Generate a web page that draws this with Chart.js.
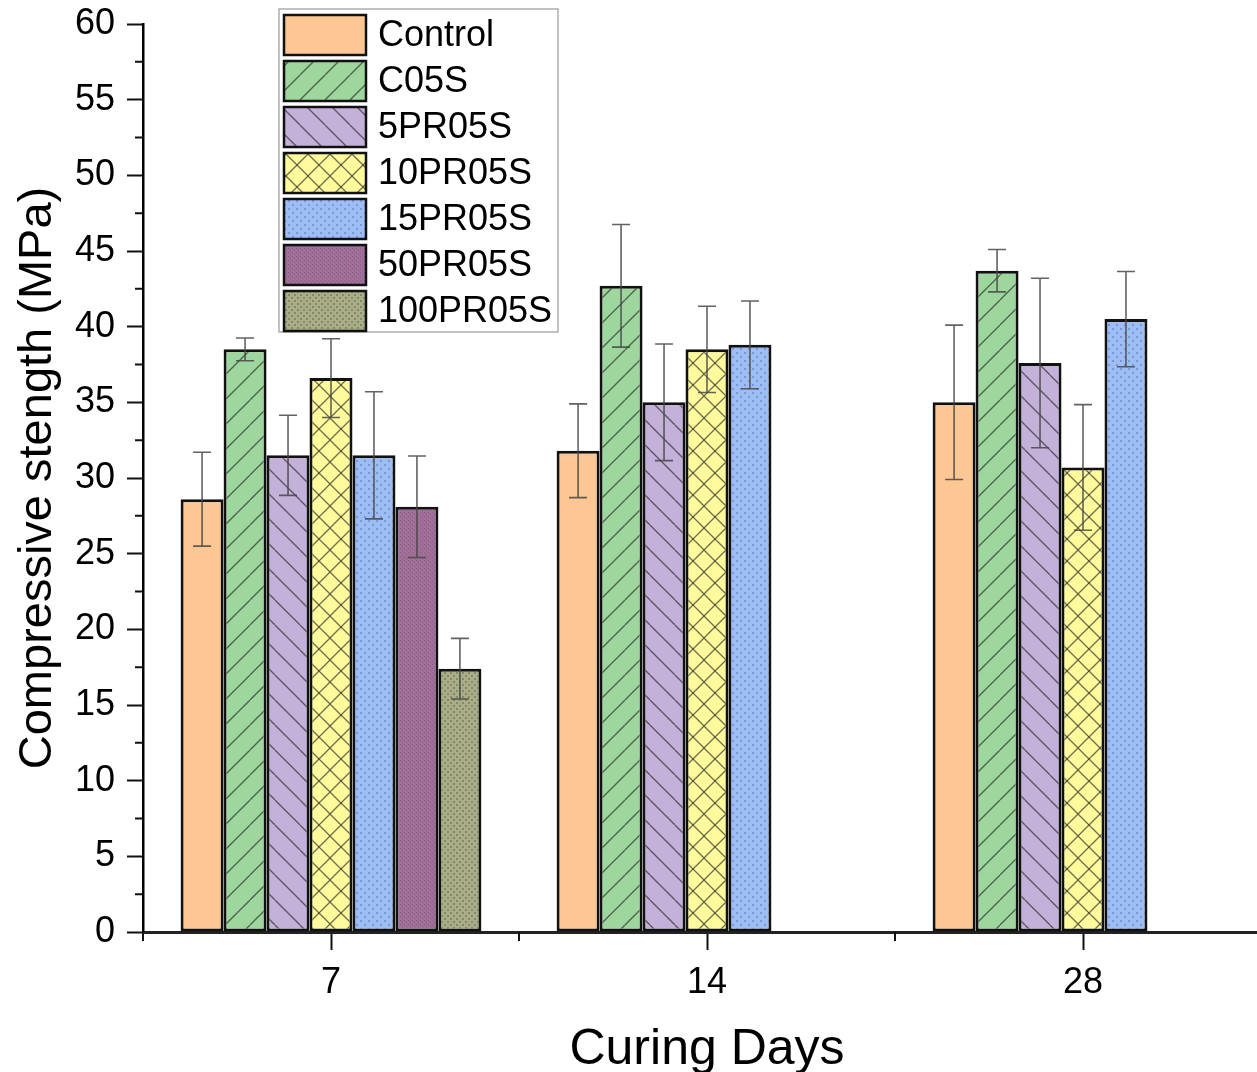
<!DOCTYPE html>
<html>
<head>
<meta charset="utf-8">
<script src="https://cdn.jsdelivr.net/npm/chart.js@4/dist/chart.umd.min.js"></script>
<style>
  html, body { margin: 0; padding: 0; background: #fff; overflow: hidden; }
  #wrap { position: relative; width: 1276px; height: 1080px; }
</style>
</head>
<body>
<div id="wrap"><canvas id="c"></canvas></div>
<script>
// categories (curing days)
const days = ['7', '14', '28'];

// mean compressive strength (MPa)
const control = [28.6, 31.8, 35.0];
const c05s    = [38.5, 42.7, 43.7];
const pr5     = [31.5, 35.0, 37.6];
const pr10    = [36.6, 38.5, 30.7];
const pr15    = [31.5, 38.8, 40.5];
const pr50    = [28.1, null, null];
const pr100   = [17.4, null, null];

// standard deviation (error bars)
const controlErr = [3.1, 3.1, 5.1];
const c05sErr    = [0.75, 4.05, 1.4];
const pr5Err     = [2.65, 3.85, 5.6];
const pr10Err    = [2.6, 2.85, 4.15];
const pr15Err    = [4.2, 2.9, 3.15];
const pr50Err    = [3.35, null, null];
const pr100Err   = [2.0, null, null];

const labels = ['Control', 'C05S', '5PR05S', '10PR05S', '15PR05S', '50PR05S', '100PR05S'];

// pattern helper
function tile(size, bg, draw) {
  const cv = document.createElement('canvas');
  cv.width = size; cv.height = size;
  const g = cv.getContext('2d');
  g.fillStyle = bg;
  g.fillRect(0, 0, size, size);
  draw(g, size);
  return g.createPattern(cv, 'repeat');
}
function slash(g, s, dir) {
  g.strokeStyle = 'rgba(20,20,20,0.6)';
  g.lineWidth = 1.3;
  for (let k = -1; k <= 1; k++) {
    g.beginPath();
    if (dir > 0) { g.moveTo(k * s, s); g.lineTo(k * s + s, 0); }
    else { g.moveTo(k * s, 0); g.lineTo(k * s + s, s); }
    g.stroke();
  }
}
function dots(g, s, col, r, stagger) {
  g.fillStyle = col;
  g.fillRect(0, 0, r, r);
  if (stagger) g.fillRect(s / 2, s / 2, r, r);
}

const fills = [
  '#FDC794',
  tile(25, '#9DD79D', (g, s) => slash(g, s, 1)),
  tile(25, '#C3B1D9', (g, s) => slash(g, s, -1)),
  tile(22, '#FFFB9C', (g, s) => { slash(g, s, 1); slash(g, s, -1); }),
  tile(8, '#9DBDF4', (g, s) => dots(g, s, 'rgba(90,120,190,0.55)', 2, true)),
  tile(4, '#A0709A', (g, s) => dots(g, s, 'rgba(120,70,110,0.5)', 1, true)),
  tile(6, '#A9AD88', (g, s) => dots(g, s, 'rgba(110,115,80,0.6)', 2, true))
];

const values = [control, c05s, pr5, pr10, pr15, pr50, pr100];
const errors = [controlErr, c05sErr, pr5Err, pr10Err, pr15Err, pr50Err, pr100Err];

const datasets = labels.map((l, i) => ({
  label: l,
  data: values[i],
  errs: errors[i],
  backgroundColor: fills[i],
  borderColor: '#111',
  borderWidth: 3,
  borderSkipped: false
}));

// error bars
const errorBars = {
  id: 'errorBars',
  afterDatasetsDraw(chart) {
    const c = chart.ctx, ys = chart.scales.y;
    c.save();
    c.strokeStyle = 'rgba(70,70,70,0.85)';
    c.lineWidth = 1.6;
    chart.data.datasets.forEach((ds, di) => {
      const meta = chart.getDatasetMeta(di);
      meta.data.forEach((el, j) => {
        const v = ds.data[j], e = ds.errs[j];
        if (v == null || e == null) return;
        const x = el.x;
        const t = ys.getPixelForValue(v + e), b = ys.getPixelForValue(v - e);
        c.beginPath();
        c.moveTo(x, t); c.lineTo(x, b);
        c.moveTo(x - 9, t); c.lineTo(x + 9, t);
        c.moveTo(x - 9, b); c.lineTo(x + 9, b);
        c.stroke();
      });
    });
    c.restore();
  }
};

// minor ticks on both axes
const minorTicks = {
  id: 'minorTicks',
  afterDraw(chart) {
    const c = chart.ctx, ys = chart.scales.y;
    const a = chart.chartArea;
    c.save();
    c.strokeStyle = '#111';
    c.lineWidth = 2;
    c.beginPath();
    for (let v = 2.5; v < 60; v += 5) {
      const y = ys.getPixelForValue(v);
      c.moveTo(a.left - 8, y); c.lineTo(a.left, y);
    }
    const w = (a.right - a.left) / days.length;
    for (let i = 0; i <= days.length; i++) {
      const x = a.left + i * w;
      c.moveTo(x, a.bottom); c.lineTo(x, a.bottom + 9);
    }
    c.stroke();
    c.restore();
  }
};

// legend box inside the plot
const boxLegend = {
  id: 'boxLegend',
  afterDraw(chart) {
    const c = chart.ctx;
    const x0 = 279, y0 = 9, w = 279, h = 323, row = 46;
    c.save();
    c.fillStyle = '#fff';
    c.fillRect(x0, y0, w, h);
    c.strokeStyle = '#999';
    c.lineWidth = 1.2;
    c.strokeRect(x0, y0, w, h);
    c.font = '36px "Liberation Sans", Arial, sans-serif';
    c.textBaseline = 'middle';
    chart.data.datasets.forEach((ds, i) => {
      const ty = y0 + 6 + i * row;
      c.fillStyle = fills[i];
      c.fillRect(x0 + 5, ty, 82, 40);
      c.strokeStyle = '#111';
      c.lineWidth = 2.5;
      c.strokeRect(x0 + 5, ty, 82, 40);
      c.fillStyle = '#000';
      c.fillText(ds.label, x0 + 99, ty + 21);
    });
    c.restore();
  }
};

new Chart('c', {
  type: 'bar',
  data: { labels: days, datasets: datasets },
  plugins: [errorBars, minorTicks, boxLegend],
  options: {
    responsive: true,
    maintainAspectRatio: false,
    animation: false,
    categoryPercentage: 0.8,
    barPercentage: 1.0,
    layout: { padding: { left: 10, top: 24, right: 5, bottom: 0 } },
    plugins: {
      legend: { display: false },
      tooltip: { enabled: false }
    },
    scales: {
      x: {
        grid: { display: true, offset: false, drawOnChartArea: false, tickLength: 18, tickColor: '#111', tickWidth: 2 },
        border: { display: true, color: '#222', width: 3 },
        ticks: { color: '#000', padding: 11, font: { family: '"Liberation Sans", Arial, sans-serif', size: 36 } },
        title: {
          display: true, text: 'Curing Days', color: '#000',
          font: { family: '"Liberation Sans", Arial, sans-serif', size: 50 },
          padding: { top: 0, bottom: 0 }
        },
        afterFit(s) { s.height = 1080 - 932; s.paddingLeft = 0; s.paddingRight = 0; }
      },
      y: {
        min: 0, max: 60,
        grid: { display: true, drawOnChartArea: false, tickLength: 16, tickColor: '#111', tickWidth: 2 },
        border: { display: true, color: '#000', width: 2.5 },
        ticks: { stepSize: 5, color: '#000', padding: 12, font: { family: '"Liberation Sans", Arial, sans-serif', size: 36 } },
        title: {
          display: true, text: 'Compressive stength (MPa)', color: '#000',
          font: { family: '"Liberation Sans", Arial, sans-serif', size: 47 },
          padding: { top: 0, bottom: 0 }
        },
        afterFit(s) { s.width = 133; s.paddingTop = 0; s.paddingBottom = 0; }
      }
    }
  }
});
</script>
</body>
</html>
